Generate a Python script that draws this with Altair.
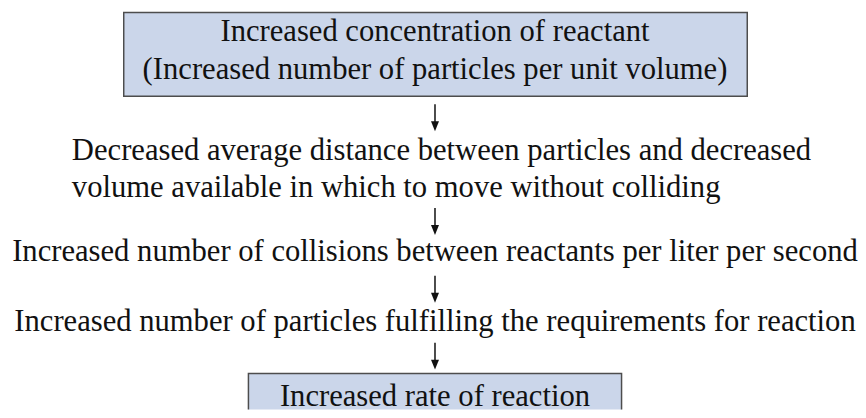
import altair as alt
import pandas as pd

# Boxes (reference pixel coordinates)
box_left = [124, 249]
box_right = [749, 623]
box_top = [12, 374]
box_bottom = [96, 430]

# Centred text lines and their baselines
center_lines = [
    "Increased concentration of reactant",
    "(Increased number of particles per unit volume)",
    "Increased number of collisions between reactants per liter per second",
    "Increased number of particles fulfilling the requirements for reaction",
    "Increased rate of reaction",
]
center_baselines = [41, 79, 261, 331, 406]

# Left-aligned paragraph
left_lines = [
    "Decreased average distance between particles and decreased",
    "volume available in which to move without colliding",
]
left_baselines = [160, 197]

center_x = 436
left_x = 72

# Arrows
arrow_top = [104, 208, 276, 343]
arrow_bottom = [131, 235, 303, 370]

FONT = "'Liberation Serif', 'Times New Roman', serif"
FS = 30.7

xs = alt.Scale(domain=[8, 858])
ys = alt.Scale(domain=[410, 8])

boxes = pd.DataFrame({"x1": box_left, "x2": box_right, "y1": box_top, "y2": box_bottom})
ctext = pd.DataFrame({"t": center_lines, "y": center_baselines, "x": [center_x] * len(center_lines)})
ltext = pd.DataFrame({"t": left_lines, "y": left_baselines, "x": [left_x] * len(left_lines)})
arrows = pd.DataFrame({
    "x": [center_x] * len(arrow_top),
    "y1": arrow_top,
    "y2": [b - 8 for b in arrow_bottom],
    "yh": [b - 5 for b in arrow_bottom],
})

box_layer = alt.Chart(boxes).mark_rect(
    fill="#cbd6ea", stroke="#4d4d4d", strokeWidth=1.5, clip=True
).encode(
    x=alt.X("x1:Q", scale=xs, axis=None),
    x2="x2:Q",
    y=alt.Y("y1:Q", scale=ys, axis=None),
    y2="y2:Q",
)

ctext_layer = alt.Chart(ctext).mark_text(
    font=FONT, fontSize=FS, align="center", baseline="alphabetic", color="#111111"
).encode(
    x=alt.X("x:Q", scale=xs, axis=None),
    y=alt.Y("y:Q", scale=ys, axis=None),
    text="t:N",
)

ltext_layer = alt.Chart(ltext).mark_text(
    font=FONT, fontSize=FS, align="left", baseline="alphabetic", color="#111111"
).encode(
    x=alt.X("x:Q", scale=xs, axis=None),
    y=alt.Y("y:Q", scale=ys, axis=None),
    text="t:N",
)

shaft_layer = alt.Chart(arrows).mark_rule(color="#111111", strokeWidth=1.5).encode(
    x=alt.X("x:Q", scale=xs, axis=None),
    y=alt.Y("y1:Q", scale=ys, axis=None),
    y2="y2:Q",
)

head_layer = alt.Chart(arrows).mark_point(
    shape="M-0.8,-1L0.8,-1L0,1Z", filled=True, color="#111111", size=100, opacity=1
).encode(
    x=alt.X("x:Q", scale=xs, axis=None),
    y=alt.Y("yh:Q", scale=ys, axis=None),
)

chart = alt.layer(box_layer, ctext_layer, ltext_layer, shaft_layer, head_layer).properties(
    width=850, height=402, padding=0
).configure_view(strokeWidth=0)

chart.save("out.html", embed_options={"renderer": "svg", "actions": False})
